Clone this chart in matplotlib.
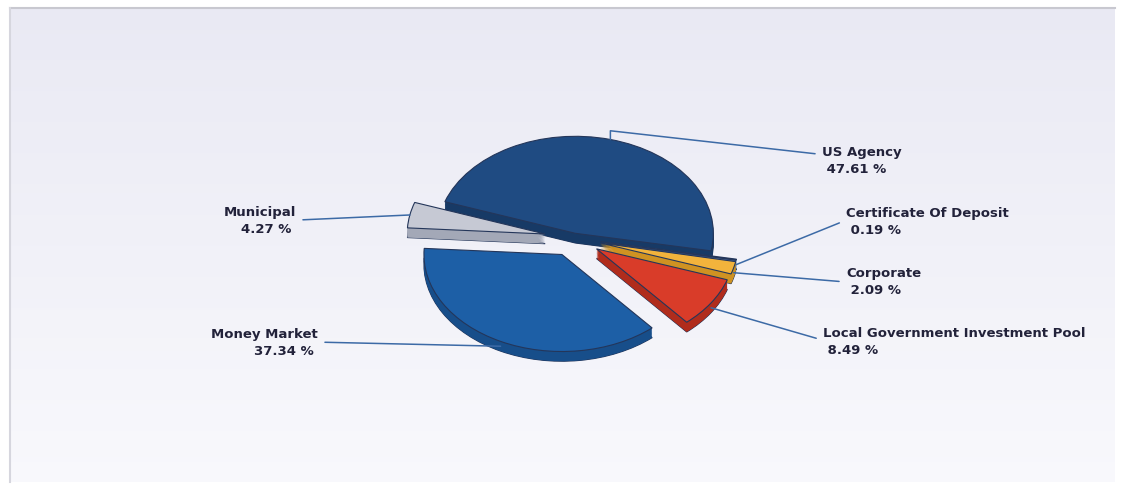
import numpy as np
import matplotlib.pyplot as plt

categories = ['US Agency', 'Certificate Of Deposit', 'Corporate',
              'Local Government Investment Pool', 'Money Market', 'Municipal']
percents = [47.61, 0.19, 2.09, 8.49, 37.34, 4.27]
explode = [0.05, 0.2, 0.2, 0.2, 0.19, 0.21]
top_colors = ['#1f4b82', '#4f7bbd', '#f2b33c', '#d93c29', '#1d5fa6', '#c6c9d4']
side_colors = ['#173a66', '#3d62a0', '#cf9222', '#b02c1c', '#174e8a', '#a3a8b7']

# label anchors in pixels from the top-left corner
label_x = [822, 846, 846, 823, 318, 296]
label_y = [161, 222, 282, 342, 343, 221]
label_ha = ['left', 'left', 'left', 'left', 'right', 'right']
label_rel = [0.72, 0.56, 0.5, 0.56, 0.53, 0.53]

W, H = 1121, 487
fig = plt.figure(figsize=(W / 100, H / 100), dpi=100)
fig.patch.set_facecolor('white')

# background panel
bg = fig.add_axes([0, 0, 1, 1])
bg.set_xlim(0, W)
bg.set_ylim(H, 0)
bg.axis('off')
grad = np.linspace(0, 1, 256).reshape(-1, 1)
top_c = np.array([0.915, 0.915, 0.955])
bot_c = np.array([0.975, 0.975, 0.99])
img = top_c + (bot_c - top_c) * grad[..., None]
bg.imshow(img, extent=(10, 1115, 482, 8), aspect='auto', zorder=0)
bg.plot([10, 1115], [8, 8], color='#c8c8d0', lw=1.5, zorder=1)
bg.plot([10, 10], [8, 482], color='#d6d6de', lw=1.5, zorder=1)

# pie axes: 1 unit = 138 px across, 97 px high
rx, ry = 138, 97
cx, cy = 573.6, 238
lim = 1.6
ax = fig.add_axes([(cx - lim * rx) / W, (H - cy - lim * ry) / H,
                   2 * lim * rx / W, 2 * lim * ry / H])
ax.axis('off')

depth = 0.1
n_layers = 12
common = dict(explode=explode, startangle=161, counterclock=False)

ax.pie(percents, colors=side_colors, center=(0, -depth),
       wedgeprops=dict(edgecolor='#24365a', linewidth=0.8), **common)
for k in range(n_layers, 0, -1):
    ax.pie(percents, colors=side_colors, center=(0, -depth * k / n_layers),
           wedgeprops=dict(edgecolor='none', linewidth=0), **common)
wedges, _ = ax.pie(percents, colors=top_colors, center=(0, 0),
                   wedgeprops=dict(edgecolor='#24365a', linewidth=0.8), **common)

ax.set_aspect('auto')
ax.set_xlim(-lim, lim)
ax.set_ylim(-lim, lim)

for i, w in enumerate(wedges):
    mid = np.deg2rad((w.theta1 + w.theta2) / 2)
    px = w.center[0] + w.r * np.cos(mid)
    py = w.center[1] + w.r * np.sin(mid)
    if np.sin(mid) < 0:
        py -= depth * 0.5
    text = f"{categories[i]}\n {percents[i]:.2f} %"
    if label_ha[i] == 'right':
        text = f"{categories[i]}\n{percents[i]:.2f} % "
    rel_x = 0 if label_ha[i] == 'left' else 1
    conn = 'arc3,rad=0'
    if i == 0:
        # short vertical drop into the top of the slice
        conn = 'angle,angleA=173.6,angleB=90,rad=0'
    ax.annotate(text, xy=(px, py), xycoords='data',
                xytext=(label_x[i], H - label_y[i]), textcoords='figure pixels',
                ha=label_ha[i], va='center', multialignment=label_ha[i],
                fontsize=9.5, fontweight='bold', color='#22223a', linespacing=1.35,
                arrowprops=dict(arrowstyle='-', color='#3c6aa6', lw=1.1,
                                shrinkA=3, shrinkB=0, relpos=(rel_x, label_rel[i]),
                                connectionstyle=conn),
                annotation_clip=False)

fig.savefig('out.png', dpi=100)
